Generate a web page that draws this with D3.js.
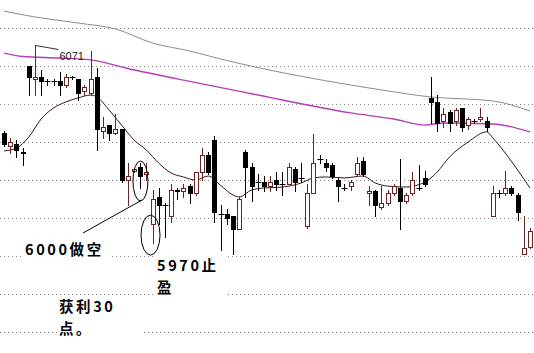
<!DOCTYPE html>
<html>
<head>
<meta charset="utf-8">
<script src="https://cdn.jsdelivr.net/npm/d3@7"></script>
<style>
  body { margin: 0; background: #fff; }
  svg { display: block; }
</style>
</head>
<body>
<div id="vis"></div>
<script>
// daily bars (index 0..85)
var opens  = [6025,6018,6019,6015,6060,6053,6054,6052,6052,6052,6050,6054,6053,6047,6046,6054,6026,6029,6025,6027,
              6000,6005,6007,6003,5977,5991,5987,5981,5995,5994,5997,5993,6004,6013,6021,5982,5982,5981,5974,6015,
              6007,5999,5999,5997,6000,5998,5998,6006,6001,5976,5993,6011,6009,6008,6000,5996,5997,6003,6010,5993,
              5994,5986,5988,5993,5996,5989,5993,5996,6001,6043,6041,6031,6036,6031,6038,6029,6031,6032,6031,5981,
              5993,5993,5996,5992,5961,5965];
var highs  = [6026,6022,6021,6017,6060,6071,6058,6053,6053,6057,6056,6055,6053,6050,6068,6059,6033,6029,6035,6027,
              6009,6006,6009,6009,5995,5996,5988,5998,5996,5998,5998,6004,6017,6015,6023,5987,5985,5981,5991,6016,
              6009,6003,6002,6002,6004,6004,6009,6007,6009,5998,6024,6013,6011,6009,6001,5998,6000,6012,6012,5997,
              5995,5997,5995,5998,6011,5993,6004,6008,6005,6054,6045,6038,6037,6038,6038,6033,6032,6038,6033,5997,
              5995,6005,5997,5993,5981,5975];
var lows   = [6018,6014,6012,6008,6045,6045,6045,6050,6050,6045,6049,6053,6042,6045,6045,6016,6022,6021,6024,5999,
              5987,6004,5996,6000,5967,5977,5970,5978,5990,5991,5988,5992,6000,6003,5978,5963,5977,5961,5974,5991,
              5989,5995,5994,5994,5995,5992,5998,5994,5999,5975,5993,6009,6005,6001,5989,5995,5995,6002,6002,5987,
              5981,5985,5987,5992,5974,5988,5992,5995,5997,6030,6026,6028,6026,6029,6026,6027,6030,6031,6026,5981,
              5991,5992,5992,5979,5961,5964];
var closes = [6019,6020,6016,6014,6054,6054,6052,6052,6052,6050,6054,6054,6046,6049,6053,6027,6028,6025,6027,6000,
              6002,6006,6002,6004,5990,5987,5987,5995,5994,5996,5993,6004,6013,6004,5983,5982,5980,5974,5990,6007,
              5997,5999,5997,5999,5998,5998,6007,5999,6001,5993,6009,6011,6007,6002,5997,5996,5999,6009,6003,5994,
              5987,5988,5993,5997,5989,5992,6000,5996,5998,6041,6030,6035,6030,6037,6028,6032,6031,6033,6028,5993,
              5993,5996,5993,5983,5964,5973];

// moving averages read at some bar positions
var maShortIdx = [0,2,4,6,8,10,12,14,15,17,19,21,23,25,27,29,31,33,35,37,38,40,42,45,48,50,52,55,58,60,62,65,68,69,70,72,75,78,79,81,83,85];
var maShort    = [6015.3,6016.8,6022.6,6032.1,6037.9,6041.1,6043.2,6044.7,6043.7,6036.8,6028.9,6021.1,6015.8,6008.9,6003.7,6001.6,6000,6002.1,5997.2,5992.1,
                  5991.1,5994.7,5995.8,5996.3,5998.4,6001.1,6001.6,6001.1,6002.1,5998.4,5996.8,5996.3,5998.9,6001.1,6004.2,6012.1,6020,6025.3,6022.1,6014.2,
                  6005.3,5995.8];
var maMidIdx   = [0,3,9,14,20,28,40,56,63,68,71,79,85];
var maMid      = [6066.8,6065,6064.2,6063.2,6058.7,6053.2,6045.4,6035.3,6032.1,6028.9,6030,6029.5,6025.3];
var maLongIdx  = [0,5,12,18,24,30,35,56,61,69,79,85];
var maLong     = [6088.9,6085.8,6082.6,6079.5,6072.1,6067.9,6063.7,6050,6047.4,6043.7,6041.6,6036.3];

var gridLevels = [6080,6060,6040,6020,6000,5980,5960,5940,5920];

var width  = 534;
var height = 353;

var svg = d3.select('#vis')
  .append('svg')
  .attr('width', width)
  .attr('height', height)
  .style('background', '#fff');

var xScale = d3.scaleLinear().domain([0, 85]).range([4, 530]);
var yScale = d3.scaleLinear().domain([5920, 6080]).range([332, 28]);

// dotted price grid
svg.append('g')
  .selectAll('line')
  .data(gridLevels)
  .enter().append('line')
  .attr('x1', 0)
  .attr('x2', width)
  .attr('y1', function(d){ return Math.round(yScale(d)) + 0.5; })
  .attr('y2', function(d){ return Math.round(yScale(d)) + 0.5; })
  .attr('stroke', '#8a8a8a')
  .attr('stroke-dasharray', '1,3');

// moving averages
function maLine(idx, vals, color, w) {
  var pts = idx.map(function(d, k){ return {i: d, v: vals[k]}; });
  var line = d3.line()
    .x(function(d){ return xScale(d.i); })
    .y(function(d){ return yScale(d.v); })
    .curve(d3.curveMonotoneX);
  svg.append('path')
    .attr('d', line(pts))
    .attr('fill', 'none')
    .attr('stroke', color)
    .attr('stroke-width', w);
}
maLine(maLongIdx, maLong, '#8c8c8c', 1);
maLine(maMidIdx, maMid, '#b83cb8', 1.4);
maLine(maShortIdx, maShort, '#3a1414', 1);

// candles
var bars = opens.map(function(o, i){
  return {i: i, o: o, h: highs[i], l: lows[i], c: closes[i]};
});
var candle = svg.append('g').selectAll('g')
  .data(bars)
  .enter().append('g');

function cx(d){ return Math.round(xScale(d.i)) + 0.5; }
function col(d){ return d.c > d.o ? '#6e2222' : '#000'; }

candle.append('line')
  .attr('x1', cx).attr('x2', cx)
  .attr('y1', function(d){ return Math.round(yScale(d.h)); })
  .attr('y2', function(d){ return Math.round(yScale(d.l)) + 1; })
  .attr('stroke', col);

candle.filter(function(d){ return d.o !== d.c; })
  .append('rect')
  .attr('x', function(d){ return cx(d) - 2; })
  .attr('width', 4)
  .attr('y', function(d){ return Math.round(yScale(Math.max(d.o, d.c))) + 0.5; })
  .attr('height', function(d){
    return Math.max(1, Math.round(yScale(Math.min(d.o, d.c))) - Math.round(yScale(Math.max(d.o, d.c))));
  })
  .attr('fill', function(d){ return d.c > d.o ? '#fff' : '#000'; })
  .attr('stroke', col);

candle.filter(function(d){ return d.o === d.c; })
  .append('line')
  .attr('x1', function(d){ return cx(d) - 3; })
  .attr('x2', function(d){ return cx(d) + 3; })
  .attr('y1', function(d){ return Math.round(yScale(d.c)) + 0.5; })
  .attr('y2', function(d){ return Math.round(yScale(d.c)) + 0.5; })
  .attr('stroke', '#000');

// high marker 6071
var hx = cx(bars[5]), hy = Math.round(yScale(highs[5])) + 0.5;
svg.append('path')
  .attr('d', 'M' + hx + ',' + hy + 'L' + (hx + 23) + ',' + (hy + 4))
  .attr('fill', 'none')
  .attr('stroke', '#333');
svg.append('text')
  .attr('x', hx + 24)
  .attr('y', hy + 14)
  .style('font-family', 'Liberation Sans, Arial, sans-serif')
  .style('font-size', '11px')
  .style('fill', '#222')
  .text('6071');

// circled entry and exit bars
svg.append('ellipse')
  .attr('cx', xScale(22) + 0.3).attr('cy', yScale(5999.5))
  .attr('rx', 7.5).attr('ry', 20)
  .attr('fill', 'none').attr('stroke', '#000');
svg.append('ellipse')
  .attr('cx', xScale(24) - 2).attr('cy', yScale(5971))
  .attr('rx', 9.5).attr('ry', 20)
  .attr('fill', 'none').attr('stroke', '#000');
svg.append('line')
  .attr('x1', 83).attr('y1', 233)
  .attr('x2', 142).attr('y2', 200)
  .attr('stroke', '#000');

// notes (one text element each, wrapped with tspans)
var noteFont = '"Noto Sans CJK SC", "Noto Sans", sans-serif';
function note(x, y, w, h, lines) {
  svg.append('rect')
    .attr('x', x).attr('y', y).attr('width', w).attr('height', h)
    .attr('fill', '#fff');
  var t = svg.append('text')
    .attr('x', x + 2)
    .attr('y', y + 16)
    .style('font-family', noteFont)
    .style('font-size', '14.5px')
    .style('font-weight', 'bold')
    .style('letter-spacing', '2.6px')
    .style('fill', '#000');
  lines.forEach(function(s, k){
    t.append('tspan')
      .attr('x', x + 2)
      .attr('dy', k === 0 ? 0 : 21.5)
      .text(s);
  });
}
note(23, 239, 86, 19, ['6000做空']);
note(155, 255, 70, 43, ['5970止', '盈']);
note(57, 296, 84, 44, ['获利30', '点。']);
</script>
</body>
</html>
